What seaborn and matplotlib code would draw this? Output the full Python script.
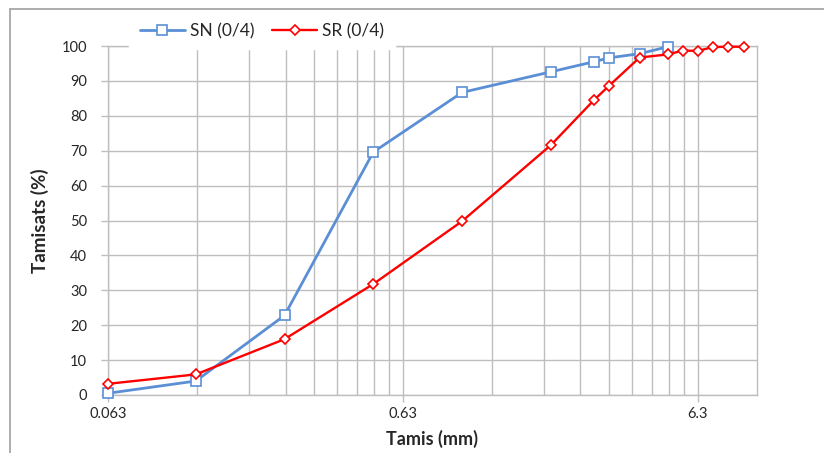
"""
Courbes granulométriques SN / SR (0/4)
"""

import numpy as np
import pandas as pd
import matplotlib
matplotlib.use('Agg')
import matplotlib.pyplot as plt
import matplotlib.ticker as mticker
from matplotlib.lines import Line2D
import seaborn as sns

# Données
tamis_sn = [0.063, 0.125, 0.25, 0.5, 1.0, 2.0, 2.8, 3.15, 4.0, 5.0]
tamisats_sn = [0.5, 4.0, 22.8, 69.6, 86.7, 92.6, 95.5, 96.6, 97.8, 99.8]

tamis_sr = [0.063, 0.125, 0.25, 0.5, 1.0, 2.0, 2.8, 3.15, 4.0, 5.0, 5.6, 6.3, 7.1, 8.0, 9.0]
tamisats_sr = [3.2, 5.9, 16.0, 31.8, 49.8, 71.6, 84.5, 88.6, 96.7, 97.6, 98.7, 98.6, 99.7, 99.8, 99.8]

x_ticks = [0.063, 0.63, 6.3]
x_labels = ['0.063', '0.63', '6.3']
y_ticks = list(range(0, 101, 10))

BLEU = '#5B8FD5'
ROUGE = '#FF0000'
GRILLE = '#BEBEBE'

sns.set_style('white')
plt.rcParams['font.family'] = ['Lato', 'DejaVu Sans']

df_sn = pd.DataFrame({'tamis': tamis_sn, 'tamisats': tamisats_sn})
df_sr = pd.DataFrame({'tamis': tamis_sr, 'tamisats': tamisats_sr})

fig = plt.figure(figsize=(8.24, 4.53), dpi=100)
ax = fig.add_axes([108 / 824, 1 - 395 / 453, (757 - 108) / 824, (395 - 46) / 453])

sns.lineplot(data=df_sn, x='tamis', y='tamisats', ax=ax, color=BLEU, linewidth=2.0,
             marker='s', markersize=7.5, markerfacecolor='white',
             markeredgecolor=BLEU, markeredgewidth=1.2, zorder=4, clip_on=False)
sns.lineplot(data=df_sr, x='tamis', y='tamisats', ax=ax, color=ROUGE, linewidth=1.7,
             marker='D', markersize=5.5, markerfacecolor='white',
             markeredgecolor=ROUGE, markeredgewidth=1.2, zorder=5, clip_on=False)

ax.set_xscale('log')
ax.set_xlim(0.063, 10)
ax.set_ylim(0, 100)

# graduations principales et secondaires (multiples de 0.063)
ax.xaxis.set_major_locator(mticker.FixedLocator(x_ticks))
ax.xaxis.set_major_formatter(mticker.FixedFormatter(x_labels))
mineurs = [0.063 * k * 10 ** n for n in range(3) for k in range(2, 10)]
mineurs = [m for m in mineurs if m < 10]
ax.xaxis.set_minor_locator(mticker.FixedLocator(mineurs))
ax.xaxis.set_minor_formatter(mticker.NullFormatter())
ax.set_yticks(y_ticks)

ax.grid(True, which='both', color=GRILLE, linewidth=1.0)
ax.set_axisbelow(True)
for s in ax.spines.values():
    s.set_color(GRILLE)
    s.set_linewidth(1.0)

ax.tick_params(axis='x', which='major', direction='out', length=5, width=1, color=GRILLE,
               labelsize=10.5, pad=4, bottom=True)
ax.tick_params(axis='x', which='minor', length=0)
ax.tick_params(axis='y', direction='out', length=5, width=1, color=GRILLE,
               labelsize=10.5, pad=10, left=True)

ax.set_xlabel('Tamis (mm)', fontsize=13, fontweight='bold', labelpad=6)
ax.set_ylabel('Tamisats (%)', fontsize=13.5, fontweight='bold', labelpad=9)

poignees = [
    Line2D([], [], color=BLEU, linewidth=2.0, marker='s', markersize=7.5,
           markerfacecolor='white', markeredgecolor=BLEU, markeredgewidth=1.2),
    Line2D([], [], color=ROUGE, linewidth=1.7, marker='D', markersize=5.5,
           markerfacecolor='white', markeredgecolor=ROUGE, markeredgewidth=1.2),
]
leg = ax.legend(poignees, ['SN (0/4)', 'SR (0/4)'], ncol=2, loc='center',
                bbox_to_anchor=(262 / 824, 1 - 31 / 453), bbox_transform=fig.transFigure,
                frameon=True, fontsize=12.5, handlelength=2.6, handletextpad=0.3,
                columnspacing=1.0, borderpad=0.6, fancybox=False)
leg.get_frame().set_edgecolor('white')
leg.get_frame().set_facecolor('white')
leg.get_frame().set_alpha(1)
leg.set_zorder(10)

# cadre extérieur (coin supérieur gauche visible)
fig.add_artist(Line2D([10 / 824, 10 / 824], [0, 1 - 9 / 453], color='#A0A0A0',
                      linewidth=1.2, transform=fig.transFigure))
fig.add_artist(Line2D([10 / 824, 1], [1 - 9 / 453, 1 - 9 / 453], color='#A0A0A0',
                      linewidth=1.2, transform=fig.transFigure))

fig.savefig('out.png', dpi=100)
